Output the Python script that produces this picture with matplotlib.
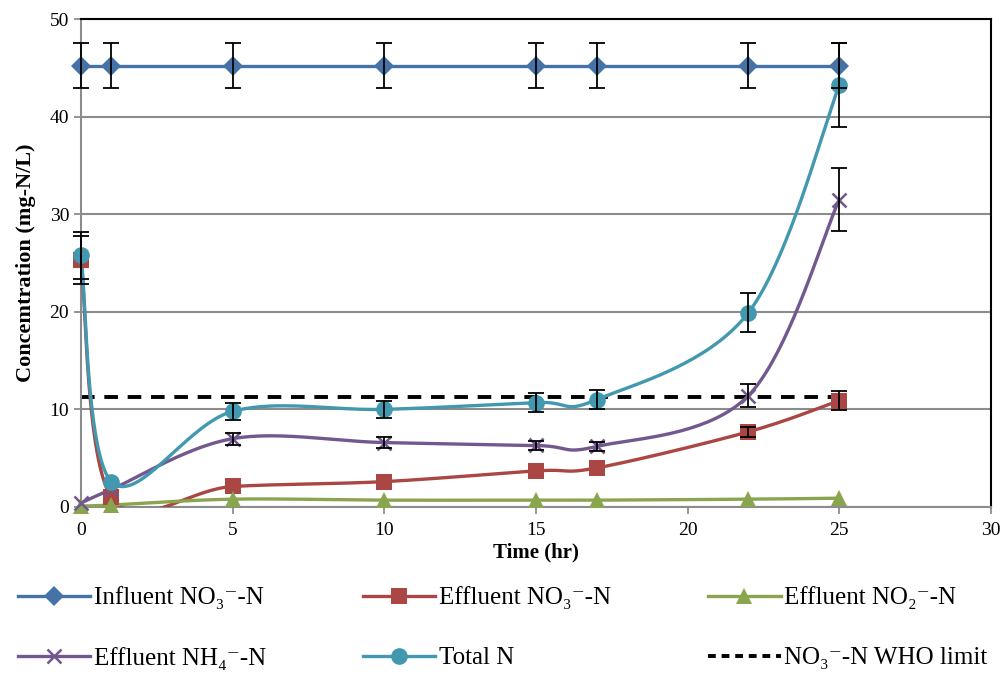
import numpy as np
import matplotlib.pyplot as plt
from matplotlib.lines import Line2D

plt.rcParams['font.family'] = ['Liberation Serif', 'DejaVu Serif']

time = [0, 1, 5, 10, 15, 17, 22, 25]

influent_no3 = [45.2, 45.2, 45.2, 45.2, 45.2, 45.2, 45.2, 45.2]
influent_no3_err = [2.3, 2.3, 2.3, 2.3, 2.3, 2.3, 2.3, 2.3]

effluent_no3 = [25.3, 1.0, 2.1, 2.6, 3.7, 4.0, 7.7, 10.9]
effluent_no3_err = [2.5, 0.0, 0.0, 0.0, 0.0, 0.0, 0.5, 1.0]

effluent_no2 = [0.1, 0.2, 0.8, 0.7, 0.7, 0.7, 0.8, 0.9]

effluent_nh4 = [0.4, 1.8, 7.0, 6.6, 6.3, 6.2, 11.4, 31.5]
effluent_nh4_err = [0.0, 0.0, 0.6, 0.6, 0.5, 0.5, 1.2, 3.2]

total_n = [25.8, 2.6, 9.8, 10.0, 10.7, 11.0, 19.9, 43.2]
total_n_err = [2.4, 0.0, 0.9, 0.9, 1.0, 1.0, 2.0, 4.3]

who_limit = 11.3


def smooth(x, y, n=40):
    # Bezier smoothing through every point (Catmull-Rom style control points)
    x = np.asarray(x, float)
    y = np.asarray(y, float)
    px = np.concatenate([[x[0]], x, [x[-1]]])
    py = np.concatenate([[y[0]], y, [y[-1]]])
    xs, ys = [], []
    t = np.linspace(0, 1, n)
    for i in range(1, len(px) - 2):
        p0 = np.array([px[i], py[i]])
        p3 = np.array([px[i + 1], py[i + 1]])
        c1 = p0 + (np.array([px[i + 1], py[i + 1]]) - np.array([px[i - 1], py[i - 1]])) / 6
        c2 = p3 - (np.array([px[i + 2], py[i + 2]]) - np.array([px[i], py[i]])) / 6
        b = ((1 - t) ** 3)[:, None] * p0 + (3 * (1 - t) ** 2 * t)[:, None] * c1 \
            + (3 * (1 - t) * t ** 2)[:, None] * c2 + (t ** 3)[:, None] * p3
        xs.extend(b[:, 0])
        ys.extend(b[:, 1])
    return xs, ys


fig = plt.figure(figsize=(10.05, 6.74), dpi=100)
ax = fig.add_axes([0.0806, 0.2478, 0.9054, 0.724])

series = [
    (influent_no3, influent_no3_err, '#4573a7', 'D', 10, 'Influent NO₃⁻-N', False),
    (effluent_no3, effluent_no3_err, '#aa4643', 's', 11, 'Effluent NO₃⁻-N', True),
    (effluent_no2, None, '#89a54e', '^', 11, 'Effluent NO₂⁻-N', True),
    (effluent_nh4, effluent_nh4_err, '#71588f', 'x', 10, 'Effluent NH₄⁻-N', True),
    (total_n, total_n_err, '#4198af', 'o', 12, 'Total N', True),
]

handles = []
for vals, err, col, mk, ms, lab, sm in series:
    if sm:
        sx, sy = smooth(time, vals)
    else:
        sx, sy = time, vals
    ax.plot(sx, sy, color=col, lw=2.4, zorder=3, solid_capstyle='round')
    mew = 1.8 if mk == 'x' else 0
    ax.plot(time, vals, ls='none', marker=mk, ms=ms, color=col, mec=col, mew=mew,
            zorder=4, clip_on=False)
    if err is not None:
        idx = [i for i, e in enumerate(err) if e > 0]
        ax.errorbar([time[i] for i in idx], [vals[i] for i in idx],
                    yerr=[err[i] for i in idx], fmt='none', ecolor='black',
                    elinewidth=1.3, capsize=6, capthick=1.3, zorder=5, clip_on=False)
    handles.append(Line2D([0], [0], color=col, lw=2.4, marker=mk, ms=ms, mec=col, mew=mew, label=lab))

ax.plot([0, 25], [who_limit, who_limit], color='black', lw=2.8, ls=(0, (3.5, 2.5)), zorder=2)
handles.append(Line2D([0], [0], color='black', lw=2.8, ls=(0, (2, 1.5)), label='NO₃⁻-N WHO limit'))

ax.set_xlim(0, 30)
ax.set_ylim(0, 50)
ax.set_xticks(range(0, 31, 5))
ax.set_yticks(range(0, 51, 10))
ax.yaxis.grid(True, color='#8c8c8c', lw=1.5)
ax.set_axisbelow(True)
for s in ['left', 'bottom']:
    ax.spines[s].set_color('#8c8c8c')
    ax.spines[s].set_linewidth(1.5)
for s in ['top', 'right']:
    ax.spines[s].set_color('black')
    ax.spines[s].set_linewidth(1.5)
ax.tick_params(axis='both', labelsize=14, color='#8c8c8c', length=5, width=1.3, direction='out')
ax.tick_params(axis='x', pad=6)

ax.set_xlabel('Time (hr)', fontsize=15, fontweight='bold', labelpad=2)
ax.set_ylabel('Concemtration (mg-N/L)', fontsize=16, fontweight='bold', labelpad=10)

# legend fills column by column, so order handles to read row by row
order = [0, 3, 1, 4, 2, 5]
fig.legend(handles=[handles[i] for i in order], loc='lower left',
           bbox_to_anchor=(0.0, -0.02, 1.0, 0.2),
           ncol=3, mode='expand', frameon=False, fontsize=18, handlelength=2.9,
           handletextpad=0.15, labelspacing=1.5, borderaxespad=0.3)

fig.savefig('out.png', dpi=100)
